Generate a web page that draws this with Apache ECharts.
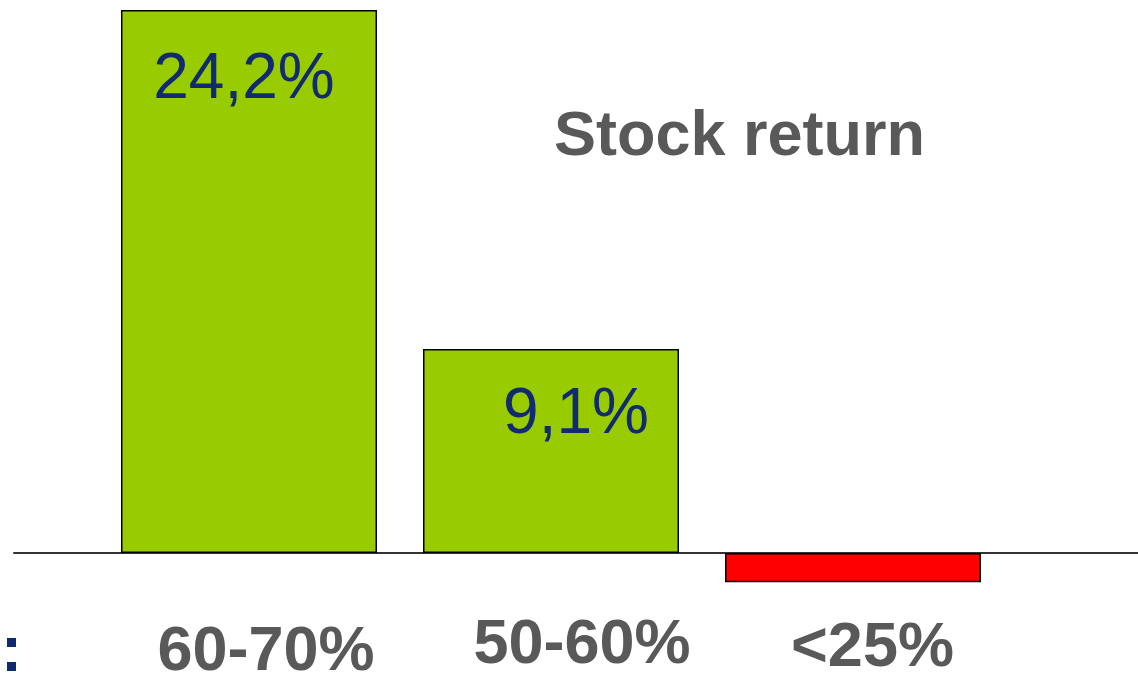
<!DOCTYPE html>
<html><head><meta charset="utf-8">
<script src="https://cdn.jsdelivr.net/npm/echarts@6/dist/echarts.min.js"></script>
<style>html,body{margin:0;padding:0;background:#fff}#c{width:1138px;height:673px}</style>
</head><body><div id="c"></div>
<script>
const categories = ['60-70%', '50-60%', '<25%'];
const stockReturn = [24.2, 9.1, -1.3];
const valueLabels = ['24,2%', '9,1%', ''];
const titleText = 'Stock return';

const barColors = ['#99CC00', '#99CC00', '#FF0000'];
const labelOffsets = [[-5, 0], [25, -4], [0, 0]];
const catPads = [[7, 0, 0, 34], [0, 0, 0, 62], [3, 0, 0, 39]];

const chart = echarts.init(document.getElementById('c'), null, {renderer: 'canvas'});
chart.setOption({
  animation: false,
  backgroundColor: '#ffffff',
  title: {
    text: titleText, left: 549, top: 101,
    textStyle: {fontFamily: 'Liberation Sans, Arial, sans-serif', fontWeight: 'bold', fontSize: 63, color: '#595959'}
  },
  grid: [
    {left: 98, right: 134, top: 10, bottom: 75, containLabel: false, outerBoundsMode: 'none'},
    {left: 14, right: 0, top: 10, bottom: 75, containLabel: false, outerBoundsMode: 'none'}
  ],
  xAxis: [
    {
      type: 'category', gridIndex: 0,
      data: categories.map((c, i) => ({value: c, textStyle: {padding: catPads[i]}})),
      axisLine: {show: false, onZero: true}, axisTick: {show: false},
      axisLabel: {margin: 16, fontFamily: 'Liberation Sans, Arial, sans-serif', fontWeight: 'bold', fontSize: 63, color: '#595959'}
    },
    {
      type: 'category', gridIndex: 1, data: [''],
      axisLine: {show: true, onZero: true, lineStyle: {color: '#333333', width: 2}},
      axisTick: {show: false}, axisLabel: {show: false}
    }
  ],
  yAxis: [
    {type: 'value', gridIndex: 0, min: -2, max: 24.2, show: false},
    {type: 'value', gridIndex: 1, min: -2, max: 24.2, show: false}
  ],
  series: [{
    type: 'bar', xAxisIndex: 0, yAxisIndex: 0, barWidth: 256, z: 3,
    data: stockReturn.map((v, i) => ({
      value: v,
      itemStyle: {color: barColors[i], borderColor: '#000000', borderWidth: 1.5},
      label: {show: valueLabels[i] !== '', offset: labelOffsets[i]}
    })),
    label: {
      position: 'insideTop', distance: 38,
      formatter: p => valueLabels[p.dataIndex],
      fontFamily: 'Liberation Sans, Arial, sans-serif', fontSize: 64, color: '#112B6E'
    }
  }],
  graphic: [
    {type: 'rect', left: 7, top: 638, shape: {width: 9, height: 9}, style: {fill: '#0C2A6E'}},
    {type: 'rect', left: 7, top: 662, shape: {width: 9, height: 9}, style: {fill: '#0C2A6E'}}
  ]
});
</script></body></html>
